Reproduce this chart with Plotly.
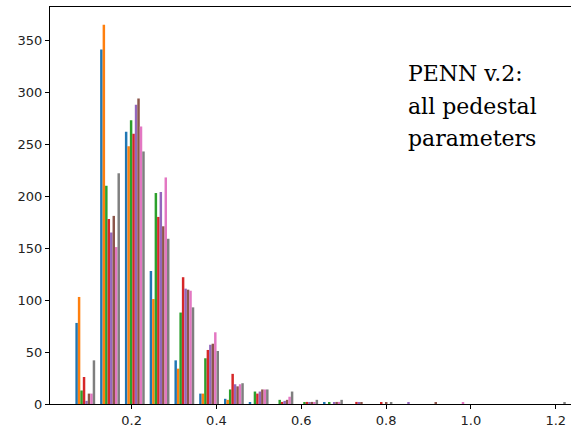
import numpy as np
import plotly.graph_objects as go

# Histogram bin layout (20 bins between data min and max)
bin_start = 0.0615
bin_end = 1.2295
n_bins = 20

series_names = ["s1", "s2", "s3", "s4", "s5", "s6", "s7", "s8"]
counts_s1 = [78, 341, 262, 128, 42, 10, 5, 1, 0, 0, 1, 0, 0, 0, 0, 0, 0, 0, 0, 0]
counts_s2 = [103, 365, 248, 101, 34, 10, 4, 0, 0, 0, 0, 0, 0, 0, 0, 0, 0, 0, 0, 0]
counts_s3 = [13, 210, 273, 203, 88, 44, 14, 12, 4, 1, 1, 0, 0, 0, 0, 0, 0, 0, 0, 0]
counts_s4 = [26, 178, 260, 180, 122, 52, 29, 10, 2, 2, 0, 2, 1, 0, 0, 0, 0, 0, 0, 0]
counts_s5 = [3, 165, 288, 204, 111, 57, 19, 12, 3, 1, 1, 1, 0, 1, 0, 0, 0, 0, 0, 0]
counts_s6 = [10, 181, 294, 171, 110, 58, 17, 14, 4, 2, 2, 1, 1, 0, 1, 0, 0, 0, 0, 0]
counts_s7 = [10, 151, 267, 218, 109, 69, 19, 14, 7, 1, 2, 0, 0, 0, 0, 1, 0, 0, 0, 0]
counts_s8 = [42, 222, 243, 159, 93, 51, 20, 14, 12, 4, 4, 0, 1, 0, 0, 0, 0, 0, 0, 1]

x_tick_vals = [0.2, 0.4, 0.6, 0.8, 1.0, 1.2]
x_tick_text = ["0.2", "0.4", "0.6", "0.8", "1.0", "1.2"]
y_tick_vals = [0, 50, 100, 150, 200, 250, 300, 350]
y_tick_text = ["0", "50", "100", "150", "200", "250", "300", "350"]

annotation_lines = ["PENN v.2:", "all pedestal", "parameters"]

colors = ["#1f77b4", "#ff7f0e", "#2ca02c", "#d62728",
          "#9467bd", "#8c564b", "#e377c2", "#7f7f7f"]

edges = np.linspace(bin_start, bin_end, n_bins + 1)
centers = (edges[:-1] + edges[1:]) / 2
bin_w = edges[1] - edges[0]

all_counts = [counts_s1, counts_s2, counts_s3, counts_s4,
              counts_s5, counts_s6, counts_s7, counts_s8]

fig = go.Figure()
for name, c, col in zip(series_names, all_counts, colors):
    fig.add_trace(go.Bar(x=centers, y=c, name=name, marker_color=col,
                         marker_line_width=0, width=bin_w * 0.1))

W, H = 571, 428
ml, mr, mt, mb = 50, 0, 7, 24

fig.update_layout(
    width=W, height=H,
    margin=dict(l=ml, r=mr, t=mt, b=mb),
    barmode="group", bargap=0.2, bargroupgap=0,
    plot_bgcolor="white", paper_bgcolor="white",
    showlegend=False,
    font=dict(family="DejaVu Sans", size=13, color="#222"),
)
fig.update_xaxes(
    range=[0.0075, 1.236], tickvals=x_tick_vals, ticktext=x_tick_text,
    showgrid=False, zeroline=False, showline=True, linecolor="black",
    linewidth=1, mirror=True, ticks="outside", ticklen=4, tickcolor="black",
)
fig.update_yaxes(
    range=[0, 382], tickvals=y_tick_vals, ticktext=y_tick_text,
    showgrid=False, zeroline=False, showline=True, linecolor="black",
    linewidth=1, ticks="outside", ticklen=4, tickcolor="black",
)

plot_w = W - ml - mr
plot_h = H - mt - mb
line_centers_px = [74, 106, 138]
for txt, ypx in zip(annotation_lines, line_centers_px):
    fig.add_annotation(
        x=(406 - ml) / plot_w, y=(H - mb - ypx) / plot_h,
        xref="paper", yref="paper", xanchor="left", yanchor="middle",
        text=txt, showarrow=False,
        font=dict(family="DejaVu Serif", size=22, color="black"),
    )

fig.write_html(
    "out.html",
    config={"displayModeBar": False},
    post_script="document.body.style.margin='0px';document.body.style.overflow='hidden';",
)
